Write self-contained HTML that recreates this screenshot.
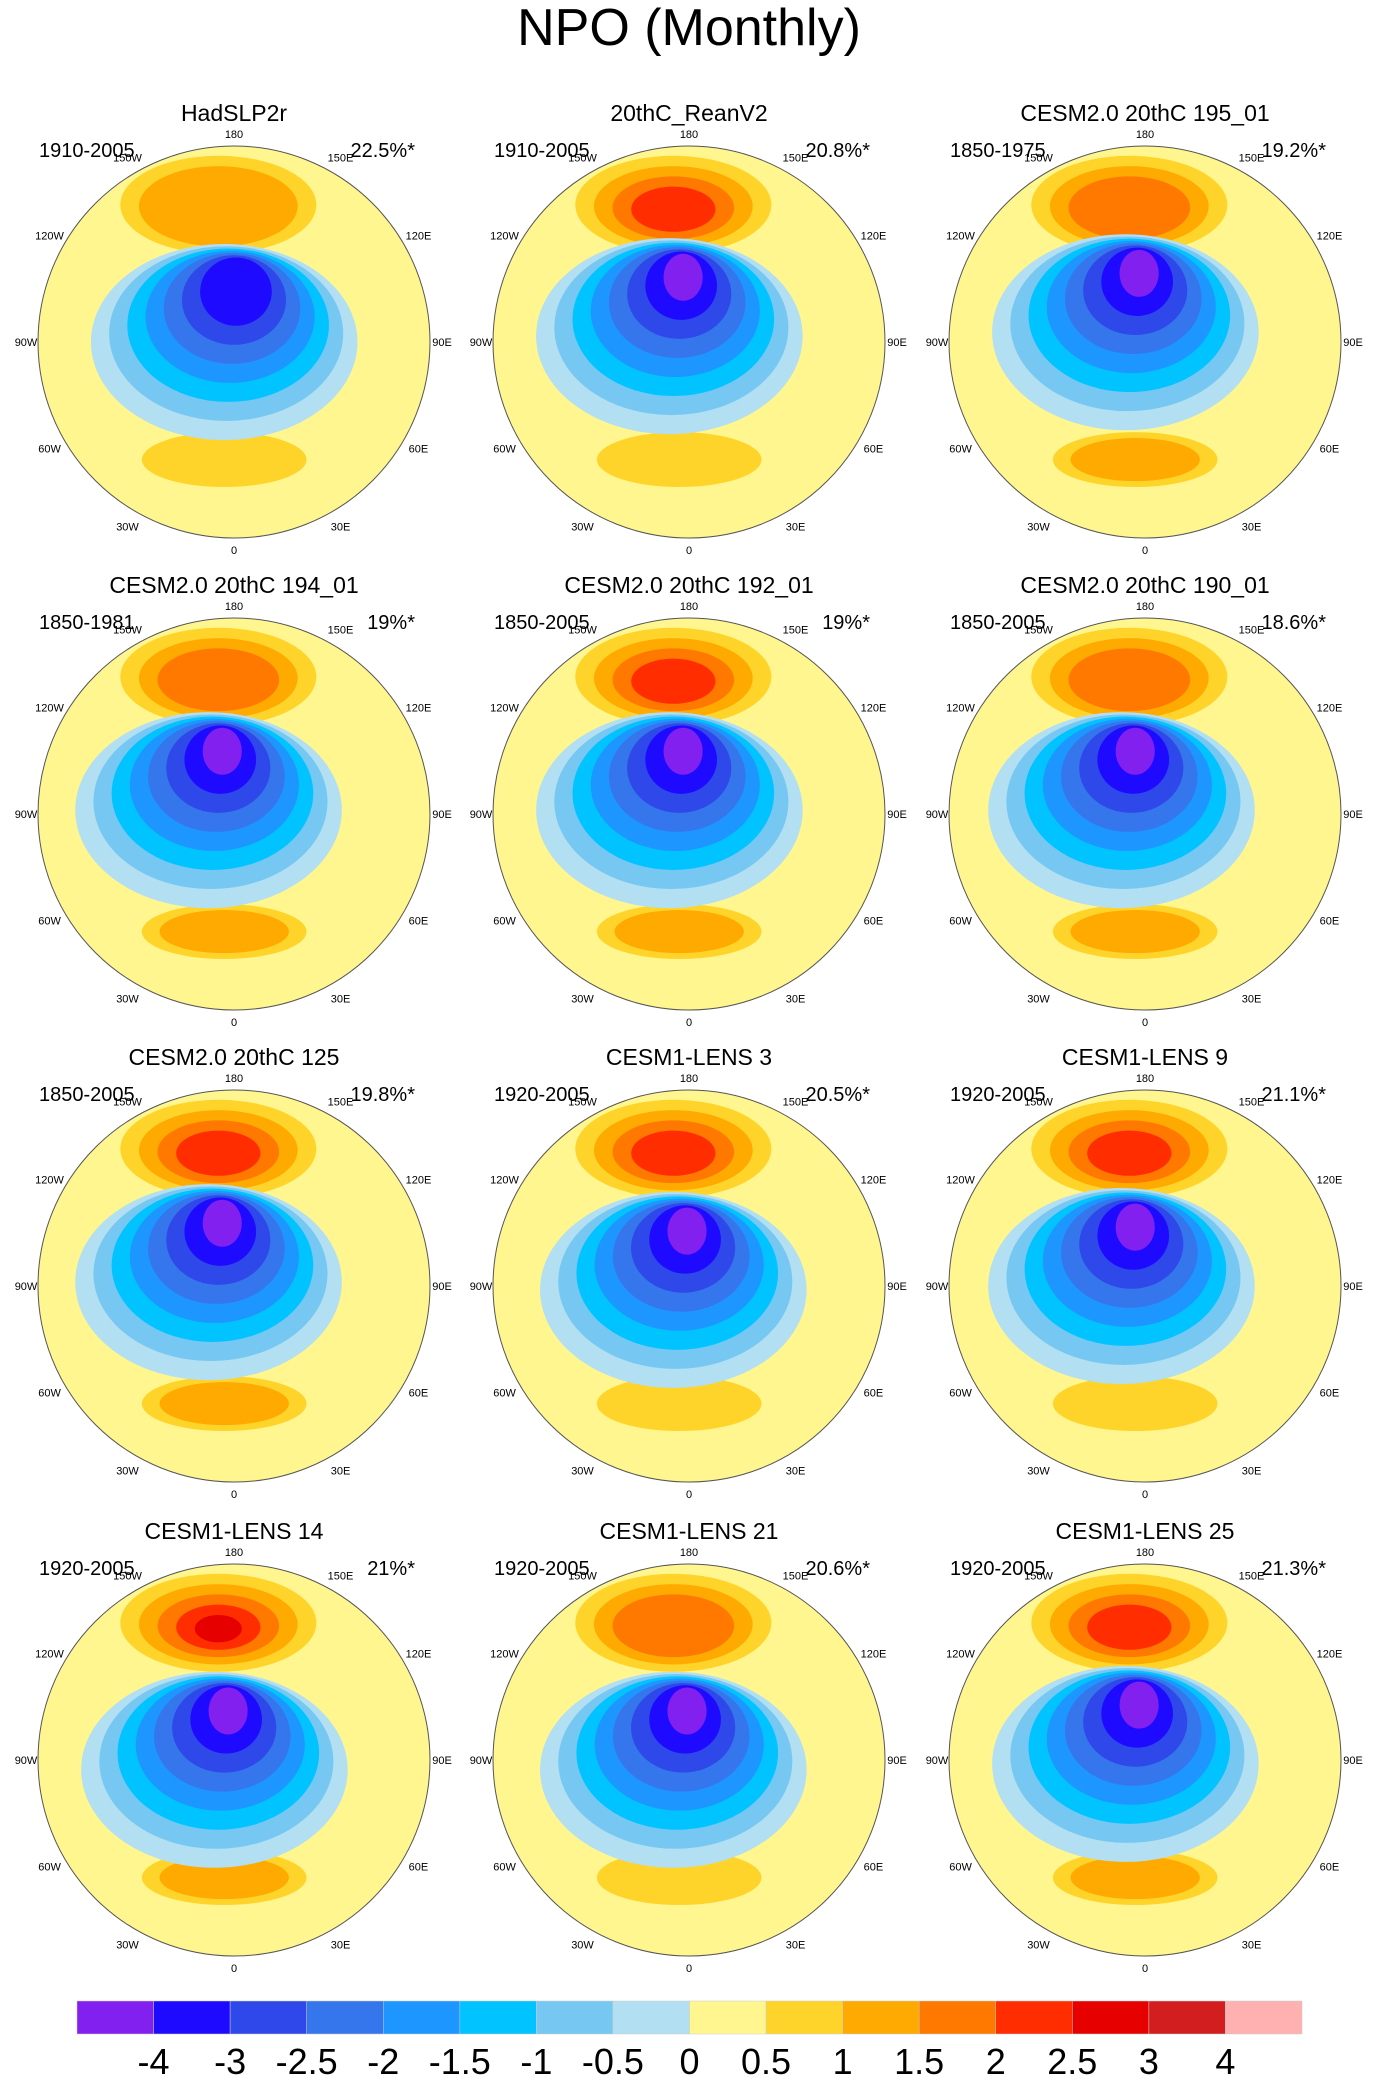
<!DOCTYPE html>
<html><head><meta charset="utf-8"><style>
html,body{margin:0;padding:0;background:#fff}
svg{display:block}
text{font-family:"Liberation Sans",sans-serif}
</style></head><body>
<svg id="fig" width="1380" height="2086" viewBox="0 0 1380 2086">
<text x="689" y="45" font-size="52" text-anchor="middle">NPO (Monthly)</text>
<g id="panels"></g>
<g id="cbar"></g>
</svg>
<script>
const titles=["HadSLP2r","20thC_ReanV2","CESM2.0 20thC 195_01","CESM2.0 20thC 194_01","CESM2.0 20thC 192_01","CESM2.0 20thC 190_01","CESM2.0 20thC 125","CESM1-LENS 3","CESM1-LENS 9","CESM1-LENS 14","CESM1-LENS 21","CESM1-LENS 25"];
const periods=["1910-2005","1910-2005","1850-1975","1850-1981","1850-2005","1850-2005","1850-2005","1920-2005","1920-2005","1920-2005","1920-2005","1920-2005"];
const percents=["22.5%*","20.8%*","19.2%*","19%*","19%*","18.6%*","19.8%*","20.5%*","21.1%*","21%*","20.6%*","21.3%*"];
const lowSteps=[7,8,8,8,8,8,8,8,8,8,8,8];
const northSteps=[2,4,3,3,4,3,4,4,4,5,3,4];
const southSteps=[1,1,2,2,2,2,2,1,1,2,1,2];
const lowDx=[0.0,-0.05,-0.05,-0.08,-0.05,-0.07,-0.08,-0.03,-0.07,-0.05,-0.03,-0.05];
const lowDy=[0.05,0.02,0.0,0.03,0.03,0.03,0.03,0.07,0.05,0.1,0.1,0.07];
const levels=[-4,-3,-2.5,-2,-1.5,-1,-0.5,0,0.5,1,1.5,2,2.5,3,4];
const colors=["#8220f0","#1e0aff","#2e48ea","#3576ec","#1d96ff","#00c3ff","#76c8f2","#b2dff2","#fff68f","#ffd42a","#ffaa00","#ff7800","#ff2d00","#e60000","#d21e1e","#ffb0b0"];
const lonLabels=["0","30E","60E","90E","120E","150E","180","150W","120W","90W","60W","30W"];

const NS="http://www.w3.org/2000/svg";
const colX=[234,689,1145], rowY=[342,814,1286,1760], R=196;
function mk(tag,attrs,parent){const e=document.createElementNS(NS,tag);for(const k in attrs)e.setAttribute(k,attrs[k]);parent.appendChild(e);return e;}
const panels=document.getElementById('panels');
const defs=mk('defs',{},document.getElementById('fig'));
titles.forEach((t,i)=>{
  const cx=colX[i%3], cy=rowY[Math.floor(i/3)];
  const g=mk('g',{},panels);
  
  
  const cp=mk('clipPath',{id:'c'+i},defs); mk('circle',{cx:cx,cy:cy,r:R},cp);
  const inner=mk('g',{'clip-path':'url(#c'+i+')'},g);
  mk('rect',{x:cx-R,y:cy-R,width:2*R,height:2*R,fill:colors[8]},inner);
  for(let k=1;k<=northSteps[i];k++){
    const f=(k-1)/4;
    const e=mk('ellipse',{cx:cx+R*(-0.08),cy:cy+R*(-0.7+0.03*f),rx:R*(0.5-0.38*f),ry:R*(0.25-0.18*f),fill:colors[8+k]},inner);
    
    
  }
  for(let k=1;k<=southSteps[i];k++){
    const f=(k-1)/2;
    const e=mk('ellipse',{cx:cx+R*(-0.05),cy:cy+R*0.6,rx:R*(0.42-0.18*f),ry:R*(0.14-0.06*f),fill:colors[8+k]},inner);
    
    
  }
  for(let k=1;k<=lowSteps[i];k++){
    const f=(k-1)/7;
    const e=mk('ellipse',{cx:cx+R*(lowDx[i]-0.05+0.07*f),cy:cy+R*(lowDy[i]-0.05-0.3*f),rx:R*(0.68-0.58*f),ry:R*(0.5-0.38*f),fill:colors[8-k]},inner);
    
    
  }
  const b=mk('circle',{cx:cx,cy:cy,r:R,fill:'none',stroke:'#555','stroke-width':1},g);
  
  
  lonLabels.forEach((l,j)=>{
    const a=j*30*Math.PI/180;
    const rr=R+(j%3===0?12:17);
    const tx=mk('text',{x:cx+rr*Math.sin(a),y:cy+rr*Math.cos(a)+4,'font-size':11,'text-anchor':'middle'},g);
    tx.textContent=l;
    
    
  });
  const ti=mk('text',{x:cx,y:cy-221,'font-size':23,'text-anchor':'middle'},g);ti.textContent=t;
  
  
  const pe=mk('text',{x:cx-195,y:cy-185,'font-size':20},g);pe.textContent=periods[i];
  
  
  const pc=mk('text',{x:cx+181,y:cy-185,'font-size':20,'text-anchor':'end'},g);pc.textContent=percents[i];
  
  
});
const cb=document.getElementById('cbar');
const x0=77,x1=1302,w=(x1-x0)/colors.length;
colors.forEach((c,i)=>{
  const r=mk('rect',{x:x0+i*w,y:2001,width:w,height:33,fill:c,stroke:'#ccc','stroke-width':0.5},cb);
  
  
});
levels.forEach((v,i)=>{
  const t=mk('text',{x:x0+(i+1)*w,y:2074,'font-size':36,'text-anchor':'middle'},cb);
  t.textContent=String(v);
  
  
});
</script>
</body></html>
